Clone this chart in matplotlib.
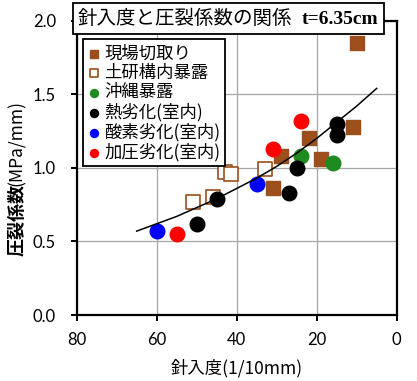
import matplotlib
matplotlib.use("Agg")
import matplotlib.pyplot as plt
from matplotlib.offsetbox import TextArea, HPacker, AnchoredOffsetbox

plt.rcParams['font.family'] = ['Noto Sans CJK JP', 'DejaVu Sans']

# ---- data ----
genba_x = [10, 11, 22, 29, 19, 31]
genba_y = [1.85, 1.28, 1.20, 1.08, 1.06, 0.86]
doken_x = [51, 46, 43, 41.5, 33]
doken_y = [0.77, 0.80, 0.97, 0.96, 0.99]
okinawa_x = [24, 16]
okinawa_y = [1.08, 1.03]
netsu_x = [50, 45, 27, 25, 15, 15]
netsu_y = [0.62, 0.79, 0.83, 1.00, 1.22, 1.30]
sanso_x = [60, 35]
sanso_y = [0.57, 0.89]
kaatsu_x = [55, 31, 24]
kaatsu_y = [0.55, 1.13, 1.32]
curve_x = [65, 60, 55, 50, 45, 40, 35, 30, 25, 20, 15, 10, 5]
curve_y = [0.57, 0.62, 0.67, 0.73, 0.79, 0.86, 0.93, 1.01, 1.10, 1.20, 1.31, 1.42, 1.54]

labels = ['現場切取り', '土研構内暴露', '沖縄暴露', '熱劣化(室内)', '酸素劣化(室内)', '加圧劣化(室内)']
title_jp = '針入度と圧裂係数の関係'
title_t = 't=6.35cm'
xticks = [80, 60, 40, 20, 0]
yticks = [0.0, 0.5, 1.0, 1.5, 2.0]

W, H = 417, 381
fig = plt.figure(figsize=(W / 100, H / 100), dpi=100)
ax = fig.add_axes([76.7 / W, 1 - 315 / H, 320 / W, (315 - 20.7) / H])

brown = '#9C4F1A'
green = '#1F8A1F'
ms = 110
ax.scatter(genba_x, genba_y, marker='s', s=100, color=brown, label=labels[0], zorder=3)
ax.scatter(doken_x, doken_y, marker='s', s=90, facecolor='white', edgecolor=brown, linewidths=1.2, label=labels[1], zorder=3)
ax.scatter(okinawa_x, okinawa_y, marker='o', s=ms, color=green, label=labels[2], zorder=3)
ax.scatter(netsu_x, netsu_y, marker='o', s=ms, color='black', label=labels[3], zorder=3)
ax.scatter(sanso_x, sanso_y, marker='o', s=ms, color='#0000FF', label=labels[4], zorder=3)
ax.scatter(kaatsu_x, kaatsu_y, marker='o', s=ms, color='#FF0000', label=labels[5], zorder=3)
ax.plot(curve_x, curve_y, color='black', lw=1.1, zorder=4)

ax.set_xlim(80, 0)
ax.set_ylim(0, 2.0)
ax.set_xticks(xticks)
ax.set_yticks(yticks)
ax.set_xticklabels([str(v) for v in xticks], family='Lato', fontsize=12)
ax.set_yticklabels([f'{v:.1f}' for v in yticks], family='Lato', fontsize=12)
ax.grid(True, color='#A6A6A6', lw=0.9)
ax.set_axisbelow(True)
for s in ax.spines.values():
    s.set_linewidth(1.6)
    s.set_color('black')
ax.tick_params(axis='both', direction='out', length=4, width=1.4)
ax.tick_params(axis='y', pad=11)
ax.tick_params(axis='x', pad=8)
ax.tick_params(top=False, right=False)

# axis labels
fig.text(236.7 / W, 1 - 368 / H, '針入度(1/10mm)', ha='center', va='center', fontsize=12.5)
fig.text(17 / W, 1 - 220 / H, '圧裂係数', rotation=90, ha='center', va='center', fontsize=13, fontweight='bold')
fig.text(17 / W, 1 - 143 / H, '(MPa/mm)', rotation=90, ha='center', va='center', fontsize=12.5)

leg = ax.legend(loc='upper left', bbox_to_anchor=(83.3 / W, 1 - 39.3 / H), bbox_transform=fig.transFigure,
                fancybox=False, framealpha=1, edgecolor='black', fontsize=12.5, markerscale=0.55,
                handlelength=0.6, handletextpad=0.3, labelspacing=0.08, borderpad=0.3, borderaxespad=0,
                scatterpoints=1)
leg.get_frame().set_linewidth(1.3)
leg.set_zorder(6)

ta1 = TextArea(title_jp, textprops=dict(fontsize=14, family=['Noto Sans CJK JP']))
ta2 = TextArea(title_t, textprops=dict(fontsize=14, family=['Liberation Serif'], fontweight='bold'))
pack = HPacker(children=[ta1, ta2], align='baseline', pad=0, sep=7)
ab = AnchoredOffsetbox(loc='upper left', child=pack, pad=0.35, borderpad=0, frameon=True,
                       bbox_to_anchor=(73 / W, 1 - 3 / H), bbox_transform=fig.transFigure)
ab.patch.set_edgecolor('black')
ab.patch.set_linewidth(1.3)
ab.patch.set_boxstyle('square', pad=0)
ab.set_zorder(7)
fig.add_artist(ab)

fig.savefig('out.png', dpi=100)
